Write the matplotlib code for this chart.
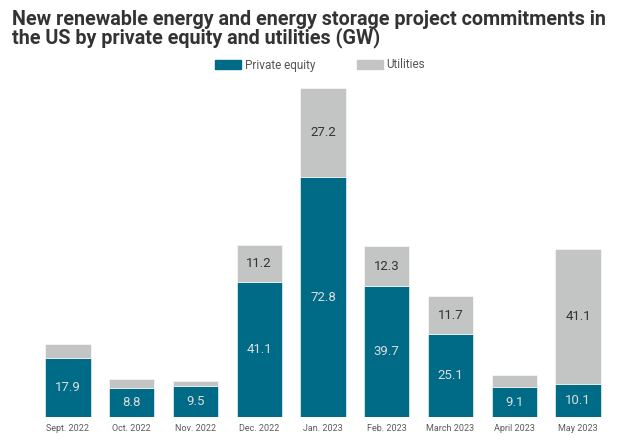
import matplotlib
matplotlib.use("Agg")
import matplotlib.pyplot as plt
from matplotlib.patches import Patch

months = ["Sept. 2022", "Oct. 2022", "Nov. 2022", "Dec. 2022", "Jan. 2023",
          "Feb. 2023", "March 2023", "April 2023", "May 2023"]
private_equity = [17.9, 8.8, 9.5, 41.1, 72.8, 39.7, 25.1, 9.1, 10.1]
utilities = [4.4, 2.7, 1.3, 11.2, 27.2, 12.3, 11.7, 3.7, 41.1]
# small utility segments carry no label in the source chart
utility_labels = ["", "", "", "11.2", "27.2", "12.3", "11.7", "", "41.1"]

PE_COLOR = "#006b87"
UT_COLOR = "#c3c4c4"

plt.rcParams["font.family"] = ["Roboto", "DejaVu Sans"]

fig = plt.figure(figsize=(6.4, 4.43), dpi=100)
ax = fig.add_axes([36 / 640, 26 / 443, 574 / 640, 329 / 443])

x = list(range(len(months)))
ax.bar(x, private_equity, width=0.71, color=PE_COLOR, edgecolor="white", linewidth=0.4)
ax.bar(x, utilities, width=0.71, bottom=private_equity, color=UT_COLOR,
       edgecolor="white", linewidth=0.4)

for i, (pe, ut, lab) in enumerate(zip(private_equity, utilities, utility_labels)):
    ax.text(i, pe / 2, f"{pe}", ha="center", va="center", color="#dcdcdc", fontsize=9.5)
    if lab:
        ax.text(i, pe + ut / 2, lab, ha="center", va="center", color="#333333", fontsize=9.5)

ax.set_xlim(-0.5, len(months) - 0.5)
ax.set_ylim(0, 100)
ax.set_xticks(x)
ax.set_xticklabels(months, fontsize=6.5, color="#5a5a5a")
ax.tick_params(axis="x", length=0, pad=5)
ax.set_yticks([])
for side in ax.spines.values():
    side.set_visible(False)

fig.text(12 / 640, 1 - 10 / 443,
         "New renewable energy and energy storage project commitments in\n"
         "the US by private equity and utilities (GW)",
         ha="left", va="top", fontsize=14.2, fontweight="bold", color="#333333",
         linespacing=0.92)

handles = [Patch(color=PE_COLOR, label="Private equity"),
           Patch(color=UT_COLOR, label="Utilities")]
fig.legend(handles=handles, loc="center", bbox_to_anchor=(0.5, 1 - 65 / 443), ncol=2,
           frameon=False, handlelength=2.2, handleheight=0.9,
           handletextpad=0.3, columnspacing=3.5, labelcolor="#555555",
           prop={"size": 8.5})

fig.savefig("out.png", dpi=100)
